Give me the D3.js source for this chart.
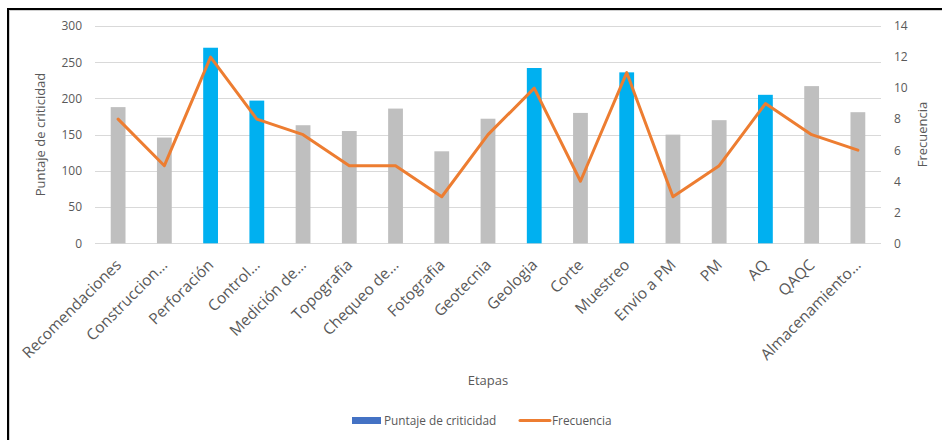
<!DOCTYPE html>
<html>
<head>
<meta charset="utf-8">
<script src="https://cdn.jsdelivr.net/npm/d3@7"></script>
<style>
  html, body { margin: 0; padding: 0; background: #fff; }
  svg { display: block; font-family: "Open Sans", sans-serif; }
</style>
</head>
<body>
<svg id="chart" width="942" height="440"></svg>
<script>
const categories = ["Recomendaciones","Construccion…","Perforación","Control…","Medición de…","Topografia","Chequeo de…","Fotografia","Geotecnia","Geologia","Corte","Muestreo","Envío a PM","PM","AQ","QAQC","Almacenamiento…"];
const puntaje = [188, 146, 270, 197, 163, 155, 186, 127, 172, 242, 180, 236, 150, 170, 205, 217, 181];
const frecuencia = [8, 5, 12, 8, 7, 5, 5, 3, 7, 10, 4, 11, 3, 5, 9, 7, 6];
const destacadas = ["Perforación", "Control…", "Geologia", "Muestreo", "AQ"];
const leftTicks = [0, 50, 100, 150, 200, 250, 300];
const rightTicks = [0, 2, 4, 6, 8, 10, 12, 14];

const svg = d3.select("#chart");
const plot = { left: 95, right: 881, top: 26, bottom: 243.3 };

const x = d3.scaleBand().domain(categories).range([plot.left, plot.right]).paddingInner(0.68).paddingOuter(0.34);
const yL = d3.scaleLinear().domain([0, 300]).range([plot.bottom, plot.top]);
const yR = d3.scaleLinear().domain([0, 14]).range([plot.bottom, plot.top]);

// frame
svg.append("line").attr("x1", 7).attr("x2", 942).attr("y1", 9).attr("y2", 9).attr("stroke", "#000").attr("stroke-width", 2);
svg.append("line").attr("x1", 8).attr("x2", 8).attr("y1", 8).attr("y2", 440).attr("stroke", "#000").attr("stroke-width", 2);
svg.append("line").attr("x1", 9).attr("x2", 942).attr("y1", 10.5).attr("y2", 10.5).attr("stroke", "#d0d0d0").attr("stroke-width", 1);
svg.append("line").attr("x1", 9.5).attr("x2", 9.5).attr("y1", 10).attr("y2", 440).attr("stroke", "#d0d0d0").attr("stroke-width", 1);

// gridlines
svg.append("g").selectAll("line").data(leftTicks).join("line")
  .attr("x1", plot.left).attr("x2", plot.right)
  .attr("y1", d => Math.round(yL(d)) + 0.5).attr("y2", d => Math.round(yL(d)) + 0.5)
  .attr("stroke", "#d9d9d9").attr("stroke-width", 1);

// left axis
const axL = svg.append("g").attr("transform", `translate(${plot.left - 13},0)`)
  .call(d3.axisLeft(yL).tickValues(leftTicks).tickSize(0).tickPadding(0));
axL.select(".domain").remove();
axL.selectAll("text").attr("fill", "#595959").style("font-size", "12px").style("font-family", "Open Sans");

// right axis
const axR = svg.append("g").attr("transform", `translate(${plot.right + 13},0)`)
  .call(d3.axisRight(yR).tickValues(rightTicks).tickSize(0).tickPadding(0));
axR.select(".domain").remove();
axR.selectAll("text").attr("fill", "#595959").style("font-size", "12px").style("font-family", "Open Sans");

// bars
svg.append("g").selectAll("rect").data(categories).join("rect")
  .attr("x", d => x(d))
  .attr("width", x.bandwidth())
  .attr("y", (d, i) => yL(puntaje[i]))
  .attr("height", (d, i) => yL(0) - yL(puntaje[i]))
  .attr("fill", d => destacadas.includes(d) ? "#00B0F0" : "#BFBFBF");

// line
const line = d3.line()
  .x((d, i) => x(categories[i]) + x.bandwidth() / 2)
  .y(d => yR(d));
svg.append("path").datum(frecuencia)
  .attr("d", line)
  .attr("fill", "none")
  .attr("stroke", "#ED7D31")
  .attr("stroke-width", 3)
  .attr("stroke-linejoin", "round")
  .attr("stroke-linecap", "round");

// x labels
svg.append("g").selectAll("text").data(categories).join("text")
  .attr("transform", d => `translate(${x(d) + x.bandwidth() / 2 + 4},266) rotate(-45)`)
  .attr("text-anchor", "end")
  .attr("fill", "#595959")
  .style("font-size", "15.5px")
  .text(d => d);

// axis titles
svg.append("text").attr("transform", "translate(45,134.5) rotate(-90)")
  .attr("text-anchor", "middle").attr("fill", "#595959").style("font-size", "13px")
  .text("Puntaje de criticidad");
svg.append("text").attr("transform", "translate(927,134.5) rotate(-90)")
  .attr("text-anchor", "middle").attr("fill", "#595959").style("font-size", "13px")
  .text("Frecuencia");
svg.append("text").attr("x", 488).attr("y", 384.5)
  .attr("text-anchor", "middle").attr("fill", "#595959").style("font-size", "13px")
  .text("Etapas");

// legend
const lg = svg.append("g");
lg.append("rect").attr("x", 352).attr("y", 417).attr("width", 29).attr("height", 7).attr("fill", "#4472C4");
lg.append("text").attr("x", 384).attr("y", 425).attr("fill", "#595959").style("font-size", "11.8px").text("Puntaje de criticidad");
lg.append("line").attr("x1", 520).attr("x2", 550).attr("y1", 420.5).attr("y2", 420.5)
  .attr("stroke", "#ED7D31").attr("stroke-width", 3).attr("stroke-linecap", "round");
lg.append("text").attr("x", 552).attr("y", 425).attr("fill", "#595959").style("font-size", "11.8px").text("Frecuencia");
</script>
</body>
</html>
